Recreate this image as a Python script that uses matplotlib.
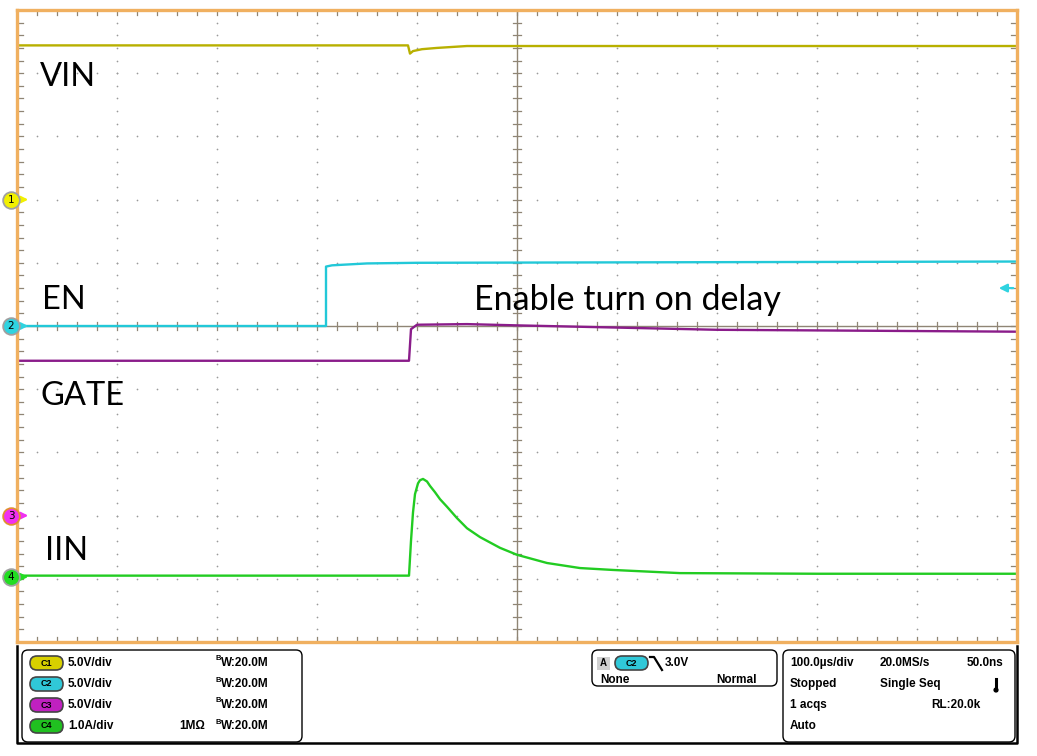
import numpy as np
import matplotlib.pyplot as plt
from matplotlib.patches import FancyBboxPatch, Circle, Rectangle
from matplotlib.transforms import blended_transform_factory

# time in us (100 us/div, centre = 0), vertical in divisions
t_vin = [-500, -109, -107, -104, -95, -80, -50, 500]
vin = [4.44, 4.44, 4.31, 4.35, 4.38, 4.40, 4.43, 4.43]

t_en = [-500, -191, -191, -185, -150, -100, 500]
en = [0.0, 0.0, 0.94, 0.96, 0.99, 1.0, 1.02]

t_gate = [-500, -108, -106, -100, -50, 0, 200, 500]
gate = [-0.55, -0.55, -0.05, 0.02, 0.03, 0.01, -0.06, -0.09]

t_iin = [-500, -108, -106, -104, -102, -99, -97, -94, -90, -87, -82, -77, -70, -60, -50, -37,
         -17, 0, 30, 63, 96, 163, 300, 500]
iin = [-3.95, -3.95, -3.40, -2.95, -2.66, -2.49, -2.44, -2.42, -2.46, -2.53, -2.63, -2.74,
       -2.86, -3.04, -3.20, -3.34, -3.51, -3.62, -3.75, -3.83, -3.86, -3.91, -3.92, -3.92]

ch_offsets = [2.0, 0.0, -3.0, -3.97]
ch_colors = ['#F2F000', '#2FD3E0', '#F030F0', '#22DD22']
trace_colors = ['#B8B000', '#22C8D8', '#8A1C8A', '#22CC22']
trig_level = 0.6

labels = ['VIN', 'EN', 'GATE', 'IIN']
label_pos = [(-477, 3.94), (-475, 0.41), (-477, -1.11), (-472, -3.56)]

scale_txt = ['5.0V/div', '5.0V/div', '5.0V/div', '1.0A/div']

W, H = 1037, 756
fig = plt.figure(figsize=(W / 100, H / 100), dpi=100)

# ---- panel / overlay in pixel coordinates
ov = fig.add_axes([0, 0, 1, 1])
ov.set_xlim(0, W)
ov.set_ylim(H, 0)
ov.axis('off')

# ---- scope graticule
ax = fig.add_axes([17 / W, (H - 642) / H, 1000 / W, 632 / H])
ax.set_xlim(-500, 500)
ax.set_ylim(-5, 5)
ax.set_xticks([])
ax.set_yticks([])
for s in ax.spines.values():
    s.set_color('#F0B060')
    s.set_linewidth(2.4)

gc = '#9A9A9A'
minor_x = np.arange(-500, 501, 20)
minor_y = np.arange(-5, 5.01, 0.2)
for xv in range(-400, 401, 100):
    if xv == 0:
        continue
    ax.scatter(np.full(len(minor_y), xv), minor_y, s=1.5, color=gc, lw=0)
for yv in range(-4, 5):
    if yv == 0:
        continue
    ax.scatter(minor_x, np.full(len(minor_x), yv), s=1.5, color=gc, lw=0)

cc = '#8F8575'
ax.axvline(0, color=cc, lw=1.0)
ax.axhline(0, color=cc, lw=1.0)
for yv in minor_y:
    ax.plot([-4, 4], [yv, yv], color=cc, lw=0.9)
    ax.plot([-500, -494], [yv, yv], color=cc, lw=0.9)
    ax.plot([494, 500], [yv, yv], color=cc, lw=0.9)
for xv in minor_x:
    ax.plot([xv, xv], [-0.06, 0.06], color=cc, lw=0.9)
    ax.plot([xv, xv], [5, 4.92], color=cc, lw=0.9)
    ax.plot([xv, xv], [-5, -4.92], color=cc, lw=0.9)

# ---- traces
ax.plot(t_vin, vin, color=trace_colors[0], lw=1.7)
ax.plot(t_en, en, color=trace_colors[1], lw=1.7)
ax.plot(t_gate, gate, color=trace_colors[2], lw=1.7)
ax.plot(t_iin, iin, color=trace_colors[3], lw=1.7)

for (lx, ly), txt in zip(label_pos, labels):
    ax.text(lx, ly, txt, fontsize=23.5, family='Lato', va='center', ha='left', color='black')
ax.text(-43, 0.41, 'Enable turn on delay', fontsize=24.5, family='Lato', va='center',
        ha='left', color='black')

# ---- channel markers on the left edge
bt = blended_transform_factory(ov.transData, ax.transData)
for i, (off, col) in enumerate(zip(ch_offsets, ch_colors)):
    edge = '#E09030' if i == 2 else '#A0A0A0'
    ax.annotate('', xy=(31, off), xytext=(15, off), xycoords=bt, textcoords=bt,
                arrowprops=dict(arrowstyle='-|>', color=col, lw=1.6, mutation_scale=10),
                annotation_clip=False, zorder=6)
    ax.plot([11], [off], 'o', transform=bt, ms=12, mfc=col, mec=edge, mew=1.3,
            clip_on=False, zorder=7)
    ax.text(11, off, str(i + 1), transform=bt, fontsize=7.5, ha='center', va='center',
            color='black', clip_on=False, zorder=8)

# trigger level arrow (right edge)
ax.annotate('', xy=(996, trig_level), xytext=(1016, trig_level), xycoords=bt, textcoords=bt,
            arrowprops=dict(arrowstyle='-|>', color=ch_colors[1], lw=1.6, mutation_scale=12),
            annotation_clip=False, zorder=6)

# ---- bottom readout panel
ov.plot([17, 17, 1017, 1017], [646, 743, 743, 646], color='black', lw=1.8)
for x0, y0, w, h in [(22, 650, 280, 92), (592, 650, 185, 36), (783, 650, 232, 92)]:
    ov.add_patch(FancyBboxPatch((x0, y0), w, h, boxstyle='round,pad=0,rounding_size=6',
                                facecolor='white', edgecolor='black', lw=1.0))

bold = dict(fontsize=8.5, family='Liberation Sans', weight='bold', va='center', color='black')


def pill(x, y, col, txt):
    ov.add_patch(FancyBboxPatch((x, y - 7), 33, 14, boxstyle='round,pad=0,rounding_size=7',
                                facecolor=col, edgecolor='#444444', lw=1.2))
    ov.text(x + 16.5, y, txt, fontsize=6.5, ha='center', va='center', color='black',
            family='Liberation Sans', weight='bold')


pill_cols = ['#D8D000', '#30C8D8', '#C020C0', '#20C020']
for i in range(4):
    yy = 663 + 21 * i
    pill(30, yy, pill_cols[i], 'C%d' % (i + 1))
    ov.text(68, yy, scale_txt[i], ha='left', **bold)
    ov.text(216, yy - 4, 'B', fontsize=5.5, family='Liberation Sans', weight='bold',
            ha='left', va='center')
    ov.text(221, yy, 'W:20.0M', ha='left', **bold)
ov.text(205, 726, '1M\u03a9', ha='right', **bold)

ov.add_patch(Rectangle((597, 657), 13, 13, facecolor='#D0D0D0', edgecolor='none'))
ov.text(603.5, 663.5, 'A', fontsize=7, weight='bold', ha='center', va='center',
        family='Liberation Sans')
pill(615, 663, pill_cols[1], 'C2')
ov.plot([650, 654, 662], [657, 657, 670], color='black', lw=1.6)
ov.text(665, 663, '3.0V', ha='left', **bold)
ov.text(600, 680, 'None', ha='left', **bold)
ov.text(757, 680, 'Normal', ha='right', **bold)

ov.text(790, 663, '100.0\u00b5s/div', ha='left', **bold)
ov.text(880, 663, '20.0MS/s', ha='left', **bold)
ov.text(1003, 663, '50.0ns', ha='right', **bold)
ov.text(790, 684, 'Stopped', ha='left', **bold)
ov.text(880, 684, 'Single Seq', ha='left', **bold)
ov.text(790, 705, '1 acqs', ha='left', **bold)
ov.text(980, 705, 'RL:20.0k', ha='right', **bold)
ov.text(790, 726, 'Auto', ha='left', **bold)
ov.plot([996, 996], [679, 690], color='black', lw=2.2)
ov.add_patch(Circle((996, 690), 2.6, facecolor='black', edgecolor='none'))

fig.savefig('out.png', dpi=100)
